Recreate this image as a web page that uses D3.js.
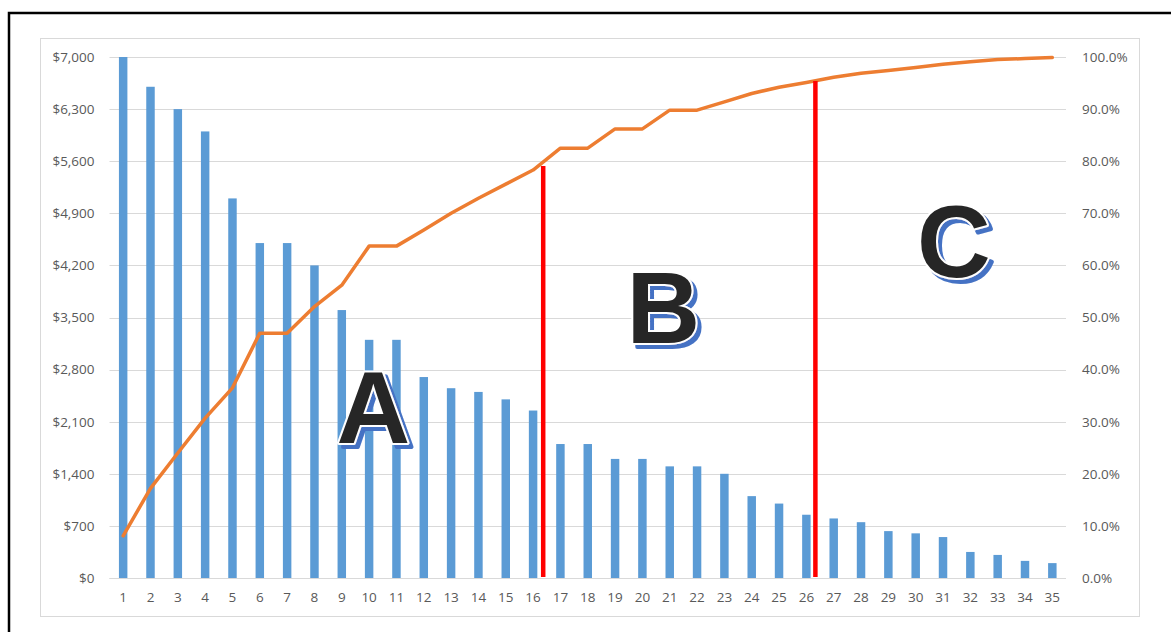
<!DOCTYPE html>
<html>
<head>
<meta charset="utf-8">
<script src="https://cdn.jsdelivr.net/npm/d3@7"></script>
<style>
  html, body { margin: 0; padding: 0; background: #fff; }
  #chart { width: 1171px; height: 632px; overflow: hidden; }
  .tick-label { font-family: "Open Sans", sans-serif; font-size: 13.5px; fill: #595959; }
  .zone { font-family: "Liberation Sans", Arial, sans-serif; font-weight: bold; font-size: 102px; }
</style>
</head>
<body>
<div id="chart"></div>
<script>
const categories = [1, 2, 3, 4, 5, 6, 7, 8, 9, 10, 11, 12, 13, 14, 15, 16, 17, 18, 19, 20,
  21, 22, 23, 24, 25, 26, 27, 28, 29, 30, 31, 32, 33, 34, 35];
const amounts = [7000, 6600, 6300, 6000, 5100, 4500, 4500, 4200, 3600, 3200, 3200, 2700, 2550, 2500, 2400,
  2250, 1800, 1800, 1600, 1600, 1500, 1500, 1400, 1100, 1000, 850, 800, 750, 630, 600, 550, 350, 310, 230, 200];
const cumPct = [8.1, 17.2, 24.0, 30.7, 36.5, 47.0, 47.0, 52.1, 56.2, 63.7, 63.7, 66.8, 70.0, 72.9, 75.6,
  78.3, 82.5, 82.5, 86.2, 86.2, 89.8, 89.8, 91.4, 93.0, 94.2, 95.1, 96.1, 96.9, 97.4, 98.0, 98.6, 99.1, 99.5, 99.7, 99.9];
const leftTicks = [0, 700, 1400, 2100, 2800, 3500, 4200, 4900, 5600, 6300, 7000];
const rightTicks = [0, 10, 20, 30, 40, 50, 60, 70, 80, 90, 100];
// class boundaries (category position, top in %)
const splitCats = [16.37, 26.33];
const splitTops = [79.1, 95.4];
// zone letters (center category, baseline in %)
const zoneLabels = ["A", "B", "C"];
const zoneCats = [10.15, 20.77, 31.4];
const zonePcts = [25.9, 45.1, 57.8];

const width = 1171, height = 632;
const plot = { left: 109.5, right: 1066, top: 57, bottom: 578 };

const svg = d3.select("#chart").append("svg")
  .attr("width", width)
  .attr("height", height);

// blue offset shadow for the zone letters
const shadow = svg.append("defs").append("filter")
  .attr("id", "zone-shadow")
  .attr("x", "-20%").attr("y", "-20%")
  .attr("width", "150%").attr("height", "150%");
shadow.append("feDropShadow")
  .attr("dx", 4).attr("dy", 4)
  .attr("stdDeviation", 0.4)
  .attr("flood-color", "#4472C4")
  .attr("flood-opacity", 1);

// outer black frame (runs off the right and bottom edges)
svg.append("rect")
  .attr("x", 9).attr("y", 13)
  .attr("width", 1300).attr("height", 800)
  .style("fill", "#fff")
  .style("stroke", "#000")
  .style("stroke-width", 2.5);

// chart area
svg.append("rect")
  .attr("x", 40.5).attr("y", 38.5)
  .attr("width", 1099).attr("height", 578)
  .style("fill", "#fff")
  .style("stroke", "#D9D9D9")
  .style("stroke-width", 1);

const x = d3.scaleBand()
  .domain(categories)
  .range([plot.left, plot.right])
  .paddingInner(0.69)
  .paddingOuter(0.345);
const xc = d3.scaleLinear()
  .domain([categories[0], categories[categories.length - 1]])
  .range([x(categories[0]) + x.bandwidth() / 2, x(categories[categories.length - 1]) + x.bandwidth() / 2]);
const yL = d3.scaleLinear().domain([0, 7000]).range([plot.bottom, plot.top]);
const yR = d3.scaleLinear().domain([0, 100]).range([plot.bottom, plot.top]);

// gridlines
svg.append("g")
  .selectAll("line")
  .data(leftTicks)
  .join("line")
  .attr("x1", plot.left).attr("x2", plot.right)
  .attr("y1", d => Math.round(yL(d)) + 0.5)
  .attr("y2", d => Math.round(yL(d)) + 0.5)
  .style("stroke", "#D9D9D9")
  .style("stroke-width", 1);

// left axis
const axL = svg.append("g")
  .attr("transform", `translate(${plot.left - 15},0)`)
  .call(d3.axisLeft(yL).tickValues(leftTicks).tickSize(0).tickPadding(0)
    .tickFormat(d => "$" + d3.format(",")(d)))
  .call(g => g.select(".domain").remove());
axL.selectAll("text").attr("class", "tick-label").attr("font-size", null).attr("font-family", null);

// right axis
const axR = svg.append("g")
  .attr("transform", `translate(${plot.right + 16},0)`)
  .call(d3.axisRight(yR).tickValues(rightTicks).tickSize(0).tickPadding(0)
    .tickFormat(d => d.toFixed(1) + "%"))
  .call(g => g.select(".domain").remove());
axR.selectAll("text").attr("class", "tick-label").attr("font-size", null).attr("font-family", null);

// bottom axis
const axB = svg.append("g")
  .attr("transform", `translate(0,${plot.bottom})`)
  .call(d3.axisBottom(x).tickSize(0).tickPadding(14))
  .call(g => g.select(".domain").remove());
axB.selectAll("text").attr("class", "tick-label").attr("font-size", null).attr("font-family", null);

// bars
svg.append("g")
  .selectAll("rect")
  .data(amounts)
  .join("rect")
  .attr("x", (d, i) => x(categories[i]))
  .attr("y", d => yL(d))
  .attr("width", x.bandwidth())
  .attr("height", d => yL(0) - yL(d))
  .style("fill", "#5B9BD5");

// category axis line
svg.append("line")
  .attr("x1", plot.left).attr("x2", plot.right)
  .attr("y1", plot.bottom + 0.5).attr("y2", plot.bottom + 0.5)
  .style("stroke", "#D9D9D9")
  .style("stroke-width", 1);

// cumulative line
const line = d3.line()
  .x((d, i) => x(categories[i]) + x.bandwidth() / 2)
  .y(d => yR(d));
svg.append("path")
  .datum(cumPct)
  .attr("d", line)
  .style("fill", "none")
  .style("stroke", "#ED7D31")
  .style("stroke-width", 3.5)
  .style("stroke-linejoin", "round")
  .style("stroke-linecap", "round");

// ABC boundaries
svg.append("g")
  .selectAll("line")
  .data(splitCats)
  .join("line")
  .attr("x1", d => xc(d)).attr("x2", d => xc(d))
  .attr("y1", (d, i) => yR(splitTops[i]))
  .attr("y2", yR(0) - 1)
  .style("stroke", "#FF0000")
  .style("stroke-width", 4.5);

// zone letters: dark letter, white outline, blue shadow
svg.append("g")
  .selectAll("text")
  .data(zoneLabels)
  .join("text")
  .attr("class", "zone")
  .attr("x", (d, i) => xc(zoneCats[i]))
  .attr("y", (d, i) => yR(zonePcts[i]))
  .attr("text-anchor", "middle")
  .attr("filter", "url(#zone-shadow)")
  .style("fill", "#262626")
  .style("stroke", "#fff")
  .style("stroke-width", 4)
  .style("paint-order", "stroke")
  .style("stroke-linejoin", "round")
  .text(d => d);
</script>
</body>
</html>
